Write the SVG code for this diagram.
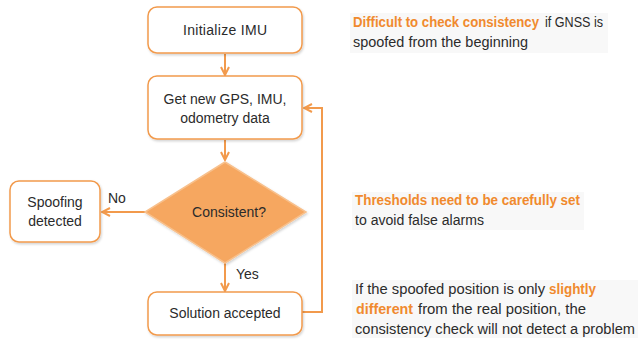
<svg xmlns="http://www.w3.org/2000/svg" width="638" height="342" viewBox="0 0 638 342">
  <defs>
    <style>
      .box { fill: #ffffff; stroke: #f29a4c; stroke-width: 1.5; }
      .diamond { fill: #f6a760; stroke: #f8c08c; stroke-width: 1.5; }
      .lbl { font-family: "Liberation Sans", Arial, sans-serif; font-size: 14px; fill: #2b2b2b; }
      .note { font-family: "Liberation Sans", Arial, sans-serif; font-size: 14px; fill: #2b2b2b; }
      .hi { fill: #f08a2e; font-weight: bold; }
      .conn { fill: none; stroke: #f29a4c; stroke-width: 2; }
      .shade { fill: #f8f8f8; }
    </style>
    <marker id="arrow" viewBox="0 0 10 10" refX="9" refY="5" markerWidth="5" markerHeight="5" orient="auto-start-reverse">
      <path d="M1,1 L9,5 L1,9" fill="none" stroke="#f29a4c" stroke-width="2"/>
    </marker>
    <filter id="shadow" x="-10%" y="-10%" width="125%" height="130%">
      <feDropShadow dx="1" dy="1.5" stdDeviation="1.2" flood-color="#000" flood-opacity="0.18"/>
    </filter>
  </defs>

  <rect width="638" height="342" fill="#ffffff"/>

  <!-- connectors -->
  <g id="connectors">
    <line class="conn" x1="225" y1="54" x2="225" y2="75" marker-end="url(#arrow)"/>
    <line class="conn" x1="225" y1="140" x2="225" y2="160" marker-end="url(#arrow)"/>
    <line class="conn" x1="145" y1="212" x2="102" y2="212" marker-end="url(#arrow)"/>
    <line class="conn" x1="225" y1="263" x2="225" y2="291" marker-end="url(#arrow)"/>
    <polyline class="conn" points="302,312 322,312 322,108 304,108" marker-end="url(#arrow)"/>
    <text class="lbl" x="108" y="203">No</text>
    <text class="lbl" x="236" y="279">Yes</text>
  </g>

  <!-- flow nodes -->
  <g id="init-imu">
    <rect class="box" x="148" y="7" width="154" height="46" rx="9" filter="url(#shadow)"/>
    <text class="lbl" x="225" y="35" text-anchor="middle" textLength="84">Initialize IMU</text>
  </g>

  <g id="get-data">
    <rect class="box" x="148" y="76" width="154" height="63" rx="9" filter="url(#shadow)"/>
    <text class="lbl" x="225" y="104" text-anchor="middle">Get new GPS, IMU,</text>
    <text class="lbl" x="225" y="123" text-anchor="middle">odometry data</text>
  </g>

  <g id="consistent">
    <polygon class="diamond" points="225,162 306,212 225,263 145,212" filter="url(#shadow)"/>
    <text class="lbl" x="229" y="217" text-anchor="middle">Consistent?</text>
  </g>

  <g id="spoofing-detected">
    <rect class="box" x="10" y="181" width="90" height="61" rx="9" filter="url(#shadow)"/>
    <text class="lbl" x="55" y="207" text-anchor="middle">Spoofing</text>
    <text class="lbl" x="55" y="226" text-anchor="middle">detected</text>
  </g>

  <g id="solution-accepted">
    <rect class="box" x="148" y="292" width="154" height="43" rx="9" filter="url(#shadow)"/>
    <text class="lbl" x="225" y="318" text-anchor="middle">Solution accepted</text>
  </g>

  <!-- annotations -->
  <g id="note-initial">
    <rect class="shade" x="350" y="13" width="258" height="40"/>
    <text class="note hi" x="353" y="27" font-size="13.2" textLength="186" lengthAdjust="spacingAndGlyphs">Difficult to check consistency</text>
    <text class="note" x="545" y="27" textLength="58" lengthAdjust="spacingAndGlyphs">if GNSS is</text>
    <text class="note" x="353" y="47" textLength="175" lengthAdjust="spacingAndGlyphs">spoofed from the beginning</text>
  </g>

  <g id="note-thresholds">
    <rect class="shade" x="352" y="192" width="232" height="38"/>
    <text class="note hi" x="355" y="205" textLength="225" lengthAdjust="spacingAndGlyphs">Thresholds need to be carefully set</text>
    <text class="note" x="355" y="225" textLength="129" lengthAdjust="spacingAndGlyphs">to avoid false alarms</text>
  </g>

  <g id="note-slight">
    <rect class="shade" x="352" y="280" width="286" height="58"/>
    <text class="note" x="355" y="294" textLength="190" lengthAdjust="spacingAndGlyphs">If the spoofed position is only</text>
    <text class="note hi" x="549" y="294" textLength="47" lengthAdjust="spacingAndGlyphs">slightly</text>
    <text class="note hi" x="356" y="314" textLength="57" lengthAdjust="spacingAndGlyphs">different</text>
    <text class="note" x="418" y="314" textLength="168" lengthAdjust="spacingAndGlyphs">from the real position, the</text>
    <text class="note" x="355" y="334" textLength="280" lengthAdjust="spacingAndGlyphs">consistency check will not detect a problem</text>
  </g>
</svg>
